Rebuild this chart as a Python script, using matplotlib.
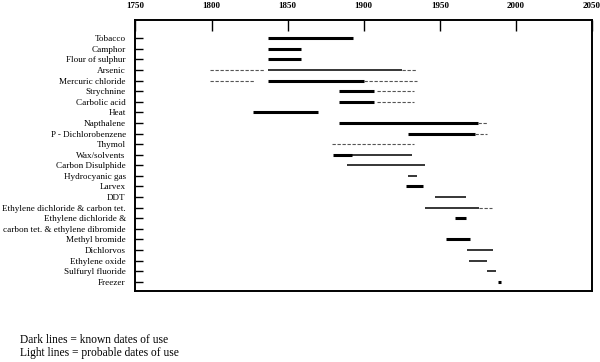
import matplotlib
matplotlib.use('Agg')
import matplotlib.pyplot as plt

# rows, top to bottom
labels = ['Tobacco', 'Camphor', 'Flour of sulphur', 'Arsenic', 'Mercuric chloride',
	'Strychnine', 'Carbolic acid', 'Heat', 'Napthalene', 'P - Dichlorobenzene',
	'Thymol', 'Wax/solvents', 'Carbon Disulphide', 'Hydrocyanic gas', 'Larvex', 'DDT',
	'Ethylene dichloride & carbon tet.', 'Ethylene dichloride &',
	'carbon tet. & ethylene dibromide', 'Methyl bromide', 'Dichlorvos',
	'Ethylene oxide', 'Sulfuryl fluoride', 'Freezer']

# known dates of use, heavy strokes
heavy_rows = ['Tobacco', 'Camphor', 'Flour of sulphur', 'Mercuric chloride', 'Strychnine',
	'Carbolic acid', 'Heat', 'Napthalene', 'P - Dichlorobenzene', 'Wax/solvents',
	'Larvex', 'Ethylene dichloride &', 'Methyl bromide', 'Freezer']
heavy_start = [1837, 1837, 1837, 1837, 1884, 1884, 1827, 1884, 1929, 1880, 1928, 1960, 1954, 1988]
heavy_end = [1893, 1859, 1859, 1900, 1907, 1907, 1870, 1975, 1973, 1892, 1939, 1967, 1970, 1990]

# known dates of use, thin strokes
thin_rows = ['Arsenic', 'Wax/solvents', 'Carbon Disulphide', 'Hydrocyanic gas', 'DDT',
	'Ethylene dichloride & carbon tet.', 'Dichlorvos', 'Ethylene oxide', 'Sulfuryl fluoride']
thin_start = [1837, 1892, 1889, 1929, 1947, 1940, 1968, 1969, 1981]
thin_end = [1925, 1932, 1940, 1935, 1967, 1976, 1985, 1981, 1987]

# probable dates of use
light_rows = ['Arsenic', 'Arsenic', 'Mercuric chloride', 'Mercuric chloride', 'Strychnine',
	'Carbolic acid', 'Napthalene', 'P - Dichlorobenzene', 'Thymol',
	'Ethylene dichloride & carbon tet.']
light_start = [1799, 1925, 1799, 1900, 1909, 1909, 1975, 1973, 1879, 1976]
light_end = [1835, 1935, 1828, 1935, 1933, 1933, 1981, 1981, 1933, 1984]

years = [1750, 1800, 1850, 1900, 1950, 2000, 2050]

serif = 'Liberation Serif'

fig = plt.figure(figsize=(6, 3.62), dpi=100)
ax = fig.add_axes([0.2258, 0.1961, 0.7609, 0.7487])

row_of = {name: i for i, name in enumerate(labels)}

ax.hlines([row_of[r] for r in heavy_rows], heavy_start, heavy_end, color='black', linewidth=2.2)
ax.hlines([row_of[r] for r in thin_rows], thin_start, thin_end, color='black', linewidth=1.1)
ax.hlines([row_of[r] for r in light_rows], light_start, light_end, color='#555555',
	linewidth=0.8, linestyles=(0, (3, 1.5)))

ax.set_xlim(1750, 2050)
ax.set_ylim(23.88, -1.73)

ax.set_yticks(range(len(labels)))
ax.set_yticklabels(labels, fontfamily=serif, fontsize=6.6)
ax.tick_params(axis='y', direction='in', length=6, width=1, pad=7)

ax.xaxis.tick_top()
ax.set_xticks(years)
ax.set_xticklabels([str(y) for y in years], fontfamily=serif, fontsize=6.5, fontweight='bold')
ax.tick_params(axis='x', direction='in', length=8, width=1, pad=7)

for s in ax.spines.values():
	s.set_linewidth(1.4)

fig.text(0.033, 0.061, 'Dark lines = known dates of use', fontfamily=serif, fontsize=8.3, va='center')
fig.text(0.033, 0.026, 'Light lines = probable dates of use', fontfamily=serif, fontsize=8.3, va='center')

fig.savefig('out.png', dpi=100)
